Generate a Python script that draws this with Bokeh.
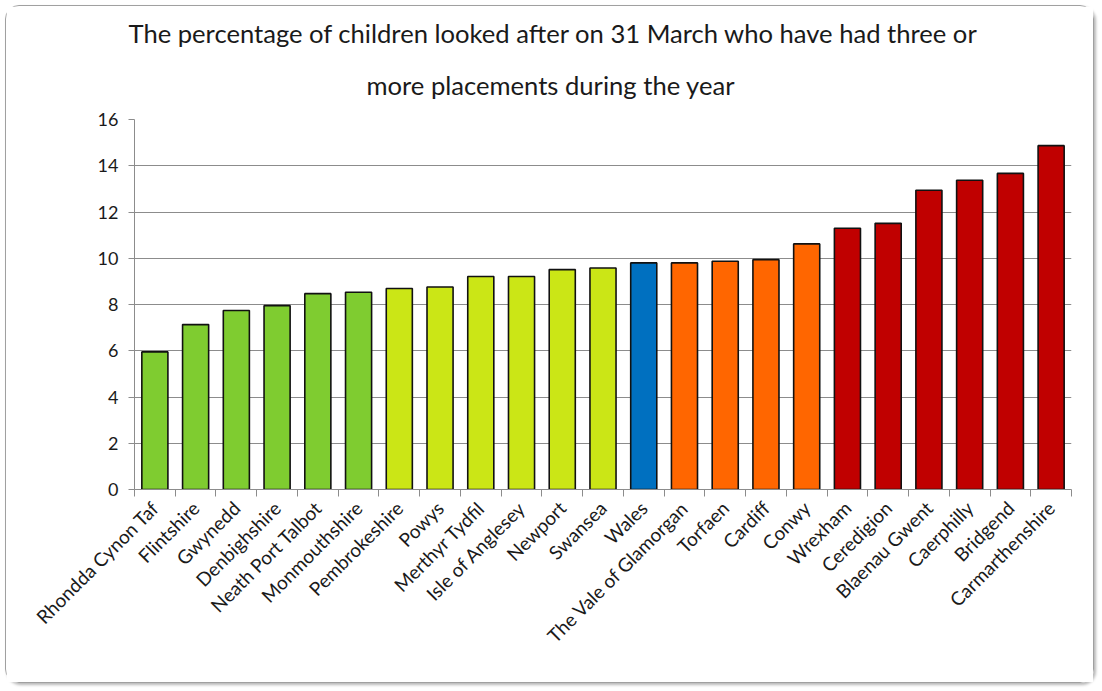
import math
from bokeh.plotting import figure
from bokeh.models import FixedTicker, Range1d, ColumnDataSource, Title
from bokeh.embed import file_html
from bokeh.resources import INLINE

# ---- data ----
regions = ["Rhondda Cynon Taf", "Flintshire", "Gwynedd", "Denbighshire", "Neath Port Talbot",
           "Monmouthshire", "Pembrokeshire", "Powys", "Merthyr Tydfil", "Isle of Anglesey",
           "Newport", "Swansea", "Wales", "The Vale of Glamorgan", "Torfaen", "Cardiff",
           "Conwy", "Wrexham", "Ceredigion", "Blaenau Gwent", "Caerphilly", "Bridgend",
           "Carmarthenshire"]
values = [5.95, 7.13, 7.74, 7.95, 8.47, 8.53, 8.69, 8.76, 9.21, 9.21, 9.51, 9.58,
          9.80, 9.80, 9.87, 9.94, 10.62, 11.30, 11.51, 12.94, 13.37, 13.67, 14.87]
groups = ["low"] * 6 + ["midlow"] * 6 + ["wales"] + ["midhigh"] * 4 + ["high"] * 6
group_colors = {"low": "#7FCC30", "midlow": "#CBE616", "wales": "#0070C0",
                "midhigh": "#FF6600", "high": "#C00000"}
y_ticks = [0, 2, 4, 6, 8, 10, 12, 14, 16]
title_lines = ["The percentage of children looked after on 31 March who have had three or",
               "more placements during the year"]

FONT = "Lato"
TXT = "#1a1a1a"
GRID = "#8c8c8c"

xs = list(range(1, len(regions) + 1))
src = ColumnDataSource(dict(x=xs, v=values, c=[group_colors[g] for g in groups]))

p = figure(width=1089, height=678, output_backend="svg", toolbar_location=None,
           x_range=Range1d(0.5, len(regions) + 0.5), y_range=Range1d(y_ticks[0], y_ticks[-1]),
           min_border_left=128, min_border_right=24, min_border_top=113, min_border_bottom=195)
p.styles = {"border": "1.5px solid #a0a0a0", "border-radius": "14px",
            "box-shadow": "2px 2px 3px #b8b8b8", "margin": "5px"}
p.outline_line_color = None
p.background_fill_color = "white"
p.border_fill_color = "white"

p.vbar(x="x", top="v", width=0.64, fill_color="c", line_color="#111111",
       line_width=1.6, source=src)

# title: two separately placed lines
def style_title(t):
    t.text_font = FONT
    t.text_font_size = "25.6px"
    t.text_font_style = "normal"
    t.text_color = TXT
    t.align = "left"

p.title.text = title_lines[0]
style_title(p.title)
p.title.offset = -6
p.title.standoff = 0

t2 = Title(text=title_lines[1])
style_title(t2)
t2.offset = 232
t2.standoff = 40
p.add_layout(t2, "above")

# grid
p.xgrid.visible = False
p.ygrid.grid_line_color = GRID
p.ygrid.grid_line_width = 1

# y axis
p.yaxis.ticker = FixedTicker(ticks=y_ticks)
p.yaxis.axis_line_color = GRID
p.yaxis.major_tick_line_color = GRID
p.yaxis.major_tick_out = 6
p.yaxis.major_tick_in = 0
p.yaxis.minor_tick_line_color = None
p.yaxis.major_label_text_font = FONT
p.yaxis.major_label_text_font_size = "18px"
p.yaxis.major_label_text_color = TXT
p.yaxis.major_label_standoff = 10

# x axis
p.xaxis.ticker = FixedTicker(ticks=xs, minor_ticks=[i + 0.5 for i in range(len(regions) + 1)])
p.xaxis.major_label_overrides = {x: r for x, r in zip(xs, regions)}
p.xaxis.major_label_orientation = math.pi / 4
p.xaxis.axis_line_color = GRID
p.xaxis.major_tick_line_color = None
p.xaxis.major_tick_out = 0
p.xaxis.major_tick_in = 0
p.xaxis.minor_tick_line_color = GRID
p.xaxis.minor_tick_out = 7
p.xaxis.minor_tick_in = 0
p.xaxis.major_label_text_font = FONT
p.xaxis.major_label_text_font_size = "19px"
p.xaxis.major_label_text_color = TXT
p.xaxis.major_label_standoff = 8

open("out.html", "w").write(file_html(p, INLINE))
